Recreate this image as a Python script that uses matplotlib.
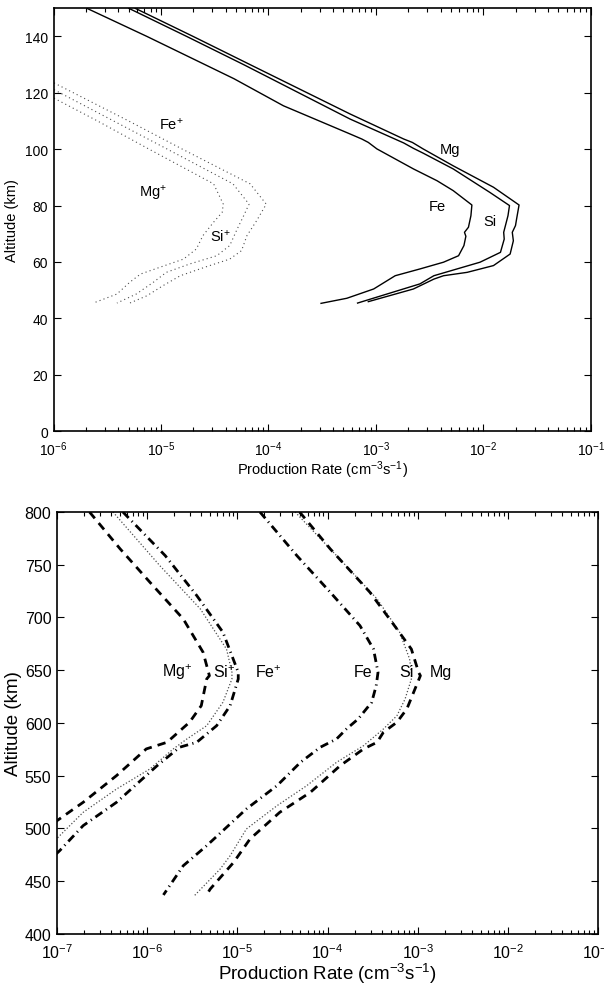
import matplotlib
matplotlib.use("Agg")
import numpy as np
import matplotlib.pyplot as plt
from matplotlib.ticker import LogLocator, NullFormatter

plt.rcParams['font.family'] = ['Liberation Sans', 'DejaVu Sans']
plt.rcParams['mathtext.fontset'] = 'custom'
plt.rcParams['mathtext.rm'] = 'Liberation Sans'
plt.rcParams['mathtext.it'] = 'Liberation Sans:italic'
plt.rcParams['mathtext.bf'] = 'Liberation Sans:bold'

# ---- top panel (low altitude), log10 of production rate vs altitude (km)
fe_alt = [150, 140, 125, 115.4, 105.4, 103.6, 102.4, 100.1, 93.0, 88.8, 85.3, 80.2,
          76.4, 72.3, 70.5, 69.1, 65.8, 62.2, 59.9, 57.5, 55.1, 50.4, 47.1, 45.3]
fe_log = [-5.69, -5.13, -4.32, -3.86, -3.24, -3.13, -3.07, -2.99, -2.65, -2.43, -2.28, -2.106,
          -2.115, -2.138, -2.175, -2.162, -2.18, -2.23, -2.37, -2.59, -2.82, -3.02, -3.27, -3.51]

mg_alt = [150, 140, 130, 112.5, 103.6, 102.4, 100.1, 94.1, 86.5, 80.2, 75.2, 72.9,
          70.5, 67.5, 62.8, 58.7, 56.3, 55.1, 53.9, 50.4, 45.9]
mg_log = [-5.24, -4.70, -4.17, -3.24, -2.74, -2.66, -2.56, -2.28, -1.905, -1.667, -1.69,
          -1.70, -1.73, -1.72, -1.75, -1.905, -2.15, -2.37, -2.46, -2.65, -3.07]

si_alt = [150, 140, 130, 110.7, 102.2, 100.3, 98.6, 93.0, 84.7, 80.0, 76.4, 70.5,
          68.1, 63.4, 59.9, 57.5, 55.1, 52.2, 45.4]
si_log = [-5.30, -4.76, -4.23, -3.24, -2.74, -2.65, -2.56, -2.28, -1.94, -1.756, -1.77,
          -1.81, -1.805, -1.84, -2.03, -2.245, -2.46, -2.59, -3.17]

mgp_alt = [118.8, 110, 100, 87.7, 80.5, 77.6, 74.1, 69.3, 64.6, 61.0, 58.1, 55.7, 52.8, 48.6, 45.4]
mgp_log = [-6.03, -5.59, -5.11, -4.51, -4.42, -4.43, -4.51, -4.61, -4.67, -4.79, -5.01, -5.19,
           -5.29, -5.41, -5.63]

sip_alt = [121.8, 110, 100, 87.7, 80.5, 76.4, 71.7, 65.8, 62.2, 59.3, 56.3, 52.8, 48.6, 45.4]
sip_log = [-6.03, -5.44, -4.94, -4.33, -4.18, -4.23, -4.29, -4.36, -4.48, -4.73, -4.95, -5.07,
           -5.23, -5.41]

fep_alt = [124.2, 110, 100, 87.7, 80.5, 74.6, 69.3, 64.0, 61.0, 58.4, 55.1, 51.6, 48.0, 45.4]
fep_log = [-6.03, -5.30, -4.80, -4.17, -4.02, -4.11, -4.20, -4.25, -4.36, -4.57, -4.82, -4.98,
           -5.13, -5.29]

# ---- bottom panel (high altitude)
b_mgp_alt = [800, 765, 733.4, 698.6, 667, 644.8, 641.7, 616.4, 600.7, 581.7, 575.4, 550.1, 524.8, 507.4, 503]
b_mgp_log = [-6.64, -6.30, -5.97, -5.60, -5.38, -5.31, -5.34, -5.40, -5.53, -5.78, -6.01, -6.34,
             -6.71, -7.0, -7.05]

b_sip_alt = [800, 749.1, 708, 670, 648, 641.7, 619.6, 597.4, 584.8, 575.4, 556.4, 537.4, 515.3, 493.2, 488]
b_sip_log = [-6.38, -5.86, -5.41, -5.12, -5.06, -5.06, -5.16, -5.34, -5.56, -5.71, -5.97, -6.34,
             -6.71, -6.97, -7.03]

b_fep_alt = [800, 758.6, 720.7, 686, 648, 641.7, 616.4, 597.4, 581.7, 577, 559.5, 524.8, 502.7, 479, 475]
b_fep_log = [-6.27, -5.80, -5.45, -5.16, -4.99, -4.99, -5.08, -5.23, -5.45, -5.64, -5.89, -6.34,
             -6.71, -6.97, -7.02]

b_fe_alt = [800, 758.6, 723.9, 692.2, 670, 648, 635.4, 619.6, 603.8, 594.3, 584.8, 577, 562.7,
            540.6, 518.5, 483.7, 464.7, 437]
b_fe_log = [-4.75, -4.34, -3.97, -3.64, -3.49, -3.44, -3.46, -3.51, -3.66, -3.79, -3.90, -4.08,
            -4.30, -4.56, -4.90, -5.34, -5.60, -5.82]

b_mg_alt = [800, 765, 723.9, 689, 670, 648, 644.8, 632.2, 613.3, 600.7, 591.2, 581.7, 575.4,
            559.5, 534.3, 515.3, 490, 468, 442.7, 436]
b_mg_log = [-4.31, -3.97, -3.53, -3.23, -3.07, -2.99, -2.97, -3.03, -3.12, -3.23, -3.38, -3.45,
            -3.60, -3.86, -4.19, -4.53, -4.86, -5.04, -5.30, -5.35]

b_si_alt = [800, 758.6, 717.5, 686, 660.7, 648, 641.7, 622.7, 606.9, 594.3, 578.5, 562.7, 540.6,
            521.6, 499.5, 474.2, 461.6, 436]
b_si_log = [-4.36, -3.90, -3.45, -3.20, -3.09, -3.07, -3.07, -3.14, -3.23, -3.38, -3.60, -3.90,
            -4.23, -4.56, -4.90, -5.08, -5.19, -5.48]


def r(logs):
    return 10.0 ** np.array(logs)


def style_axes(ax, fs, xpad):
    ax.set_xscale('log')
    ax.tick_params(which='both', direction='in', top=True, right=True, labelsize=fs, width=0.8)
    ax.tick_params(which='major', length=5, pad=4)
    ax.tick_params(axis='x', which='major', pad=xpad)
    ax.tick_params(which='minor', length=3)
    ax.xaxis.set_major_locator(LogLocator(base=10, numticks=12))
    ax.xaxis.set_minor_locator(LogLocator(base=10, subs=np.arange(2, 10), numticks=12))
    ax.xaxis.set_minor_formatter(NullFormatter())
    for s in ax.spines.values():
        s.set_linewidth(1.2)


fig = plt.figure(figsize=(6.04, 9.87), dpi=100)

# top panel
ax1 = fig.add_axes([0.0886, 0.5623, 0.8894, 0.4283])
style_axes(ax1, 10, 6)
ax1.plot(r(fe_log), fe_alt, 'k-', lw=1.0)
ax1.plot(r(si_log), si_alt, 'k-', lw=1.0)
ax1.plot(r(mg_log), mg_alt, 'k-', lw=1.0)
dot = dict(color='0.3', lw=0.8, linestyle=(0, (1, 2.8)))
ax1.plot(r(mgp_log), mgp_alt, **dot)
ax1.plot(r(sip_log), sip_alt, **dot)
ax1.plot(r(fep_log), fep_alt, **dot)
ax1.set_xlim(1e-6, 1e-1)
ax1.set_ylim(0, 150)
ax1.set_yticks(np.arange(0, 141, 20))
ax1.set_xlabel('Production Rate (cm$^{-3}$s$^{-1}$)', fontsize=10.5, labelpad=0)
ax1.set_ylabel('Altitude (km)', fontsize=10.5, labelpad=4)
tl = dict(fontsize=10.5, ha='center', va='center')
ax1.text(1.25e-5, 109, 'Fe$^{+}$', **tl)
ax1.text(8.5e-6, 84.7, 'Mg$^{+}$', **tl)
ax1.text(3.6e-5, 69.3, 'Si$^{+}$', **tl)
ax1.text(4.9e-3, 100.1, 'Mg', **tl)
ax1.text(3.7e-3, 80.0, 'Fe', **tl)
ax1.text(1.15e-2, 74.6, 'Si', **tl)

# bottom panel
ax2 = fig.add_axes([0.0944, 0.0527, 0.8957, 0.4276])
style_axes(ax2, 11.5, 6)
thick_dash = dict(color='k', lw=2.0, linestyle=(0, (3.0, 2.2)))
thick_dashdot = dict(color='k', lw=2.0, linestyle=(0, (3.0, 1.6, 0.4, 1.6)))
thin_dot = dict(color='0.3', lw=0.9, linestyle=(0, (1, 1.6)))
ax2.plot(r(b_mgp_log), b_mgp_alt, **thick_dash)
ax2.plot(r(b_sip_log), b_sip_alt, **thin_dot)
ax2.plot(r(b_fep_log), b_fep_alt, **thick_dashdot)
ax2.plot(r(b_fe_log), b_fe_alt, **thick_dashdot)
ax2.plot(r(b_si_log), b_si_alt, **thin_dot)
ax2.plot(r(b_mg_log), b_mg_alt, **thick_dash)
ax2.set_xlim(1e-7, 1e-1)
ax2.set_ylim(400, 800)
ax2.set_yticks(np.arange(400, 801, 50))
ax2.set_xlabel('Production Rate (cm$^{-3}$s$^{-1}$)', fontsize=13.5, labelpad=0)
ax2.set_ylabel('Altitude (km)', fontsize=13.5, labelpad=2)
tl2 = dict(fontsize=11.5, ha='center', va='center')
ax2.text(2.15e-6, 649, 'Mg$^{+}$', **tl2)
ax2.text(7.1e-6, 649, 'Si$^{+}$', **tl2)
ax2.text(2.2e-5, 649, 'Fe$^{+}$', **tl2)
ax2.text(2.5e-4, 649, 'Fe', **tl2)
ax2.text(7.6e-4, 649, 'Si', **tl2)
ax2.text(1.8e-3, 649, 'Mg', **tl2)

fig.savefig('out.png', dpi=100)
